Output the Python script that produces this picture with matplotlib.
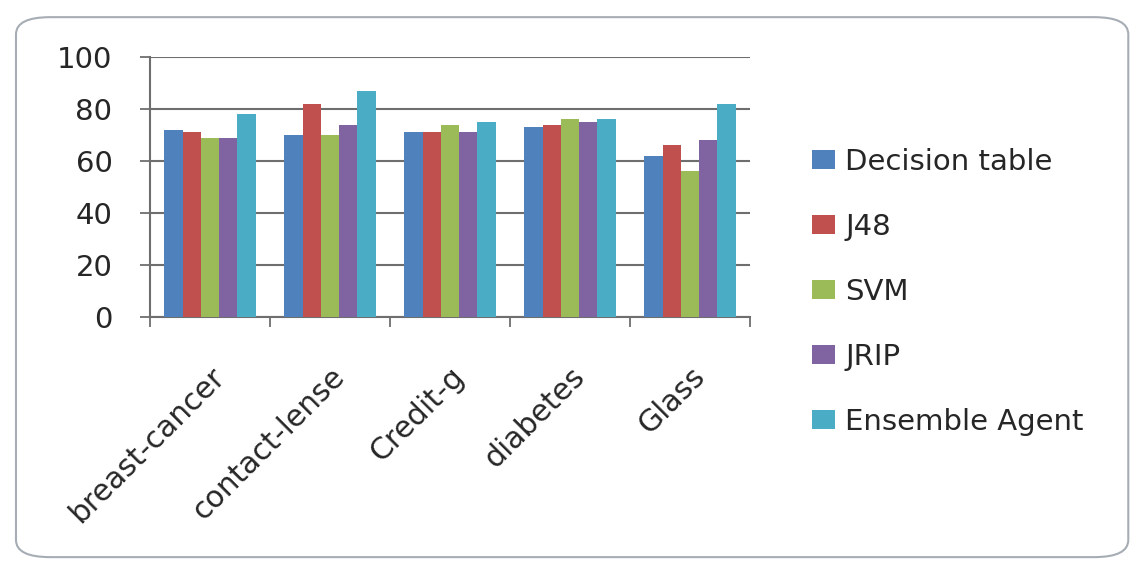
import matplotlib.pyplot as plt
import numpy as np
from matplotlib.patches import FancyBboxPatch

datasets = ["breast-cancer", "contact-lense", "Credit-g", "diabetes", "Glass"]
decision_table = [72, 70, 71, 73, 62]
j48 = [71, 82, 71, 74, 66]
svm = [69, 70, 74, 76, 56]
jrip = [69, 74, 71, 75, 68]
ensemble_agent = [78, 87, 75, 76, 82]

series_names = ["Decision table", "J48", "SVM", "JRIP", "Ensemble Agent"]
series_colors = ["#4F81BD", "#C0504D", "#9BBB59", "#8064A2", "#4BACC6"]
y_ticks = [0, 20, 40, 60, 80, 100]

plt.rcParams['font.family'] = ['DejaVu Sans']
txt_color = "#262626"

fig = plt.figure(figsize=(11.42, 5.72), dpi=100)

# rounded chart border
border = FancyBboxPatch((0.014, 0.026), 0.974, 0.944,
                        boxstyle="round,pad=0,rounding_size=0.03",
                        transform=fig.transFigure, fill=False,
                        edgecolor="#A6ADB4", linewidth=1.5)
fig.patches.append(border)

ax = fig.add_axes([0.1313, 0.4458, 0.5254, 0.4545])

x = np.arange(len(datasets))
width = 0.152
all_series = [decision_table, j48, svm, jrip, ensemble_agent]
for i, vals in enumerate(all_series):
    offset = (i - 2) * width
    ax.bar(x + offset, vals, width, color=series_colors[i],
           label=series_names[i], zorder=3)

ax.set_xlim(-0.5, len(datasets) - 0.5)
ax.set_ylim(0, 100)
ax.set_yticks(y_ticks)
ax.yaxis.grid(True, color="#6E6E6E", linewidth=1.5, zorder=0)
ax.tick_params(axis='y', labelsize=21, length=7, width=1.3,
               color="#6E6E6E", pad=20, labelcolor=txt_color)

# category labels at centres, tick marks at boundaries
ax.set_xticks(x)
ax.set_xticklabels(datasets, rotation=45, ha='right', va='top',
                   rotation_mode='anchor', fontsize=21.5, color=txt_color)
ax.tick_params(axis='x', length=0, pad=32)
ax.set_xticks(np.arange(-0.5, len(datasets)), minor=True)
ax.tick_params(axis='x', which='minor', length=7, width=1.3,
               color="#6E6E6E")

for side in ['top', 'right']:
    ax.spines[side].set_visible(False)
for side in ['left', 'bottom']:
    ax.spines[side].set_color("#6E6E6E")
    ax.spines[side].set_linewidth(1.5)

leg = ax.legend(loc='center left', bbox_to_anchor=(0.698, 0.49),
                bbox_transform=fig.transFigure, borderpad=0,
                frameon=False, fontsize=21, handlelength=0.8,
                handleheight=0.6, handletextpad=0.35, labelspacing=1.27)
for t in leg.get_texts():
    t.set_color(txt_color)

fig.savefig("out.png", dpi=100)
